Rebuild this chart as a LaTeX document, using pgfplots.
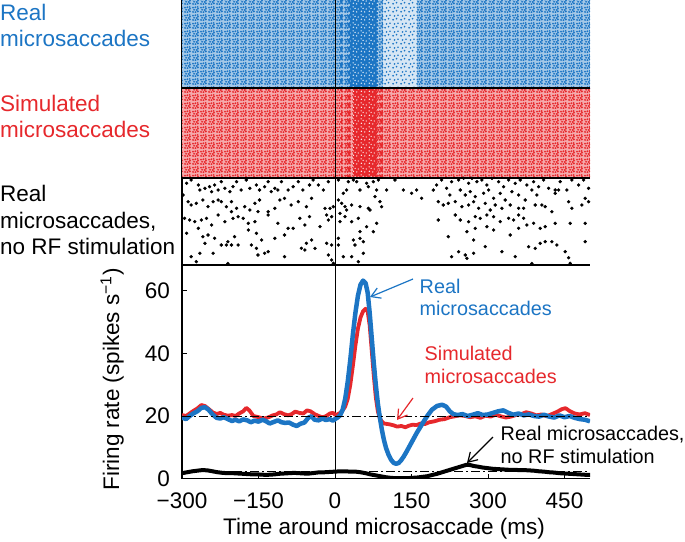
\documentclass[border=0pt]{standalone}
\usepackage{pgfplots}
\pgfplotsset{compat=1.18}
\usepackage{fontspec}
\setmainfont{Liberation Sans}
\usetikzlibrary{patterns,arrows.meta}
\definecolor{cblue}{RGB}{28,117,196}
\definecolor{cred}{RGB}{230,40,44}
\newcommand\bigf{\fontsize{22.5}{27}\selectfont}
\newcommand\annf{\fontsize{19.8}{24}\selectfont}
\pgfdeclarepatternformonly{basedots}{\pgfpointorigin}{\pgfqpoint{8pt}{8pt}}{\pgfqpoint{8pt}{8pt}}{%
 \pgfpathcircle{\pgfqpoint{1.2pt}{1.2pt}}{1.15pt}
 \pgfpathcircle{\pgfqpoint{3.9pt}{1.0pt}}{1.15pt}
 \pgfpathcircle{\pgfqpoint{6.7pt}{1.7pt}}{1.15pt}
 \pgfpathcircle{\pgfqpoint{2.4pt}{3.6pt}}{1.15pt}
 \pgfpathcircle{\pgfqpoint{5.2pt}{3.3pt}}{1.15pt}
 \pgfpathcircle{\pgfqpoint{6.8pt}{4.9pt}}{1.1pt}
 \pgfpathcircle{\pgfqpoint{1.2pt}{6.0pt}}{1.15pt}
 \pgfpathcircle{\pgfqpoint{3.7pt}{6.4pt}}{1.15pt}
 \pgfpathcircle{\pgfqpoint{6.3pt}{6.8pt}}{1.1pt}
 \pgfusepath{fill}}
\pgfdeclarepatternformonly{meddots}{\pgfpointorigin}{\pgfqpoint{8pt}{8pt}}{\pgfqpoint{8pt}{8pt}}{%
 \pgfpathcircle{\pgfqpoint{1.3pt}{1.3pt}}{1.3pt}
 \pgfpathcircle{\pgfqpoint{3.9pt}{1.3pt}}{1.3pt}
 \pgfpathcircle{\pgfqpoint{6.6pt}{1.7pt}}{1.3pt}
 \pgfpathcircle{\pgfqpoint{2.4pt}{3.6pt}}{1.3pt}
 \pgfpathcircle{\pgfqpoint{5.2pt}{3.4pt}}{1.3pt}
 \pgfpathcircle{\pgfqpoint{6.7pt}{4.9pt}}{1.25pt}
 \pgfpathcircle{\pgfqpoint{1.3pt}{5.9pt}}{1.3pt}
 \pgfpathcircle{\pgfqpoint{3.7pt}{6.3pt}}{1.3pt}
 \pgfpathcircle{\pgfqpoint{6.2pt}{6.7pt}}{1.25pt}
 \pgfpathcircle{\pgfqpoint{4.7pt}{5.0pt}}{1.2pt}
 \pgfusepath{fill}}
\pgfdeclarepatternformonly{sparsedots}{\pgfpointorigin}{\pgfqpoint{8pt}{8pt}}{\pgfqpoint{8pt}{8pt}}{%
 \pgfpathcircle{\pgfqpoint{1.2pt}{1.4pt}}{1.05pt}
 \pgfpathcircle{\pgfqpoint{5.0pt}{2.6pt}}{1.05pt}
 \pgfpathcircle{\pgfqpoint{2.8pt}{5.6pt}}{1.05pt}
 \pgfpathcircle{\pgfqpoint{6.6pt}{6.4pt}}{1.05pt}
 \pgfusepath{fill}}
\pgfdeclarepatternformonly{speckle}{\pgfpointorigin}{\pgfqpoint{8pt}{8pt}}{\pgfqpoint{8pt}{8pt}}{%
 \pgfpathcircle{\pgfqpoint{1.5pt}{2.0pt}}{0.75pt}
 \pgfpathcircle{\pgfqpoint{5.2pt}{1.2pt}}{0.75pt}
 \pgfpathcircle{\pgfqpoint{3.4pt}{5.1pt}}{0.75pt}
 \pgfpathcircle{\pgfqpoint{6.8pt}{4.4pt}}{0.75pt}
 \pgfpathcircle{\pgfqpoint{1.2pt}{6.8pt}}{0.75pt}
 \pgfusepath{fill}}
\begin{document}
\begin{tikzpicture}
\path[use as bounding box] (0,0) rectangle (685pt,-541pt);
% ---------------- raster panels ----------------
\begin{axis}[at={(182pt,0pt)}, anchor=north west, scale only axis,
 width=408pt, height=265pt, xmin=-300, xmax=500, ymin=0, ymax=265,
 axis x line*=bottom, axis y line*=left, xtick=\empty, ytick=\empty,
 axis line style={line width=1.2pt, black}]
% blue (real microsaccades): tint + dot texture
\addplot[draw=none, fill=cblue!40] coordinates {(-300,177) (95,177) (95,265) (-300,265)} -- cycle;
\addplot[draw=none, fill=cblue!18] coordinates {(95,177) (160,177) (160,265) (95,265)} -- cycle;
\addplot[draw=none, fill=cblue!40] coordinates {(160,177) (500,177) (500,265) (160,265)} -- cycle;
\addplot[draw=none, pattern=basedots, pattern color=cblue] coordinates {(-300,177) (10,177) (10,265) (-300,265)} -- cycle;
\addplot[draw=none, pattern=meddots, pattern color=cblue] coordinates {(10,177) (30,177) (30,265) (10,265)} -- cycle;
\addplot[draw=none, fill=cblue] coordinates {(30,177) (85,177) (85,265) (30,265)} -- cycle;
\addplot[draw=none, pattern=speckle, pattern color=white] coordinates {(30,177) (85,177) (85,265) (30,265)} -- cycle;
\addplot[draw=none, pattern=basedots, pattern color=cblue] coordinates {(85,177) (95,177) (95,265) (85,265)} -- cycle;
\addplot[draw=none, pattern=sparsedots, pattern color=cblue] coordinates {(95,177) (160,177) (160,265) (95,265)} -- cycle;
\addplot[draw=none, pattern=basedots, pattern color=cblue] coordinates {(160,177) (500,177) (500,265) (160,265)} -- cycle;
% red (simulated microsaccades)
\addplot[draw=none, fill=cred!40] coordinates {(-300,87) (500,87) (500,177) (-300,177)} -- cycle;
\addplot[draw=none, pattern=basedots, pattern color=cred] coordinates {(-300,87) (12,87) (12,177) (-300,177)} -- cycle;
\addplot[draw=none, pattern=meddots, pattern color=cred] coordinates {(12,87) (35,87) (35,177) (12,177)} -- cycle;
\addplot[draw=none, fill=cred] coordinates {(35,87) (82,87) (82,177) (35,177)} -- cycle;
\addplot[draw=none, pattern=speckle, pattern color=white] coordinates {(35,87) (82,87) (82,177) (35,177)} -- cycle;
\addplot[draw=none, pattern=meddots, pattern color=cred] coordinates {(82,87) (95,87) (95,177) (82,177)} -- cycle;
\addplot[draw=none, pattern=basedots, pattern color=cred] coordinates {(95,87) (500,87) (500,177) (95,177)} -- cycle;
% black (real microsaccades, no RF stimulation)
\addplot[only marks, mark=*, mark size=1.5pt, black] coordinates {
(-291,81.7)(-282,85)(-268,80)(-265,75)(-255,76.7)(-246,78.3)(-242,73.3)(-236,80)(-229,75)(-223,83.3)(-216,76.7)(-206,73.3)(-200,78.3)(-193,83.3)(-184,75)(-174,85)(-167,76.7)(-154,80)(-148,75)(-138,78.3)(-131,83.3)(-125,73.3)(-118,76.7)(-112,75)(-105,83.3)(-92,75)(-82,78.3)(-72,83.3)(-63,75)(-50,80)(-43,85)
(-298,70)(-288,63.3)(-282,60)(-272,61.7)(-259,65)(-249,58.3)(-239,63.3)(-229,65)(-223,63.3)(-213,58.3)(-203,63.3)(-193,56.7)(-177,58.3)(-167,55)(-157,61.7)(-148,65)(-131,53.3)(-118,56.7)(-108,65)(-99,66.7)(-86,60)(-72,63.3)(-56,58.3)(-46,66.7)
(-295,46.7)(-285,45)(-275,43.3)(-262,45)(-252,46.7)(-242,40)(-229,50)(-216,43.3)(-203,53.3)(-200,46.7)(-190,48.3)(-180,46.7)(-170,41.7)(-157,43.3)(-151,53.3)(-131,50)(-112,41.7)(-92,36.7)(-69,46.7)(-59,40)(-50,48.3)
(-291,31.7)(-268,36.7)(-259,28.3)(-249,30)(-236,26.7)(-210,23.3)(-197,28.3)(-170,35)(-154,31.7)(-144,25)(-118,26.7)(-99,30)(-82,36.7)(-56,21.7)(-46,25)
(-282,8.3)(-265,11.7)(-255,21.7)(-239,11.7)(-223,20)(-213,20)(-203,20)(-190,20)(-164,20)(-154,16.7)(-151,10)(-138,11.7)(-131,13.3)(-99,8.3)(-66,16.7)(-59,15)(-272,3.3)(-210,1.5)
(-32.7,80)(-22.9,75)(-13.1,83.3)(6.5,85)(16.3,71.7)(22.9,75)(26.1,83.3)(35.9,85)(42.5,83.3)(49,75)(62,81.7)(65.3,78.3)(75.1,83.3)(84.9,85)(81.7,75)(101.3,75)(117.6,85)(133.9,75)(150.3,71.7)(160,75)(169.9,66.7)(192.7,75)(199.3,80)(209,85)(218.9,76.7)(228.7,83.3)
(-19.6,56.7)(-9.8,56.7)(-3.3,58.3)(6.5,65)(13.1,61.7)(19.6,58.3)(22.9,55)(32.7,60)(49,58.3)(65.3,56.7)(68.6,55)(78.4,68.3)(88.2,63.3)(91.5,58.3)(202.5,63.3)(212.3,60)(222.1,61.7)(225.4,70)
(-16.3,50)(-13.1,45)(-6.5,48.3)(9.8,51.7)(19.6,48.3)(32.7,43.3)(45.7,46.7)(62,38.3)(81.7,41.7)(202.5,45)
(-29.4,38.3)(9.8,43.3)(49,33.3)(75.1,33.3)
(-39.2,16.7)(-16.3,21.7)(-6.5,20)(6.5,26.7)(6.5,20)(35.9,25)(39.2,20)(49,26.7)(55.5,23.3)(222.1,28.3)
(-13.1,10)(-6.5,5)(16.3,8.3)(32.7,8.3)(45.7,3.3)(55.5,11.7)(-3.3,1.7)(228.7,8.3)
(242.4,85)(252.2,86.7)(262,81.7)(268.5,86.7)(278.3,83.3)(288.1,85)(297.9,80)(307.7,86.7)(320.8,83.3)(330.6,78.3)(340.4,85)(353.4,81.7)(363.2,85)(376.3,80)(389.4,83.3)(399.2,78.3)(409,85)(418.8,76.7)(431.8,75)(441.6,83.3)(454.7,75)(464.5,85)(477.6,80)(487.4,85)(497.2,76.7)
(245.6,75)(255.4,70)(265.2,73.3)(275,68.3)(291.4,71.7)(301.2,75)(311,66.7)(324,71.7)(333.8,65)(346.9,73.3)(360,70)(373,65)(386.1,75)(395.9,70)(405.7,60)(431.8,71.7)(438.4,75)(458,63.3)(464.5,56.7)(490.6,66.7)(497.2,63.3)
(235.8,63.3)(248.9,58.3)(262,60)(271.8,63.3)(281.6,56.7)(294.6,61.7)(304.4,55)(314.2,60)(327.3,56.7)(343.6,60)(360,56.7)(369.8,56.7)(392.6,60)(412.2,58.3)(425.3,53.3)(484.1,60)
(235.8,50)(245.6,45)(262,43.3)(275,48.3)(284.8,46.7)(297.9,50)(311,48.3)(324,43.3)(340.4,46.7)(350.2,45)(360,50)(369.8,46.7)(389.4,41.7)(412.2,38.3)(431.8,41.7)(461.2,41.7)(490.6,41.7)
(258.7,33.3)(275,36.7)(297.9,38.3)(311,35)(343.6,30)(360,36.7)(376.3,40)(402.4,36.7)(425.3,23.3)
(271.8,25)(294.6,18.3)(379.6,18.3)(392.6,16.7)(402.4,21.7)(412.2,23.3)(435.1,20)(451.4,13.3)(490.6,23.3)
(242.4,13.3)(255.4,10)(258.7,6.7)(271.8,11.7)(327.3,13.3)(353.4,8.3)(458,7.3)(461.2,1.7)(386.1,1.5)
};
% separators and time-zero line
\addplot[black, line width=1.2pt] coordinates {(-300,177) (500,177)};
\addplot[black, line width=1.2pt] coordinates {(-300,87) (500,87)};
\addplot[black, line width=1pt] coordinates {(0,0) (0,265)};
\end{axis}
% ---------------- firing rate ----------------
\begin{axis}[at={(182pt,-265pt)}, anchor=north west, scale only axis,
 width=408pt, height=213.5pt, xmin=-300, xmax=500, ymin=0, ymax=68.3,
 axis x line*=bottom, axis y line*=left,
 xtick={-300,-150,0,150,300,450}, xticklabels={−300,−150,0,150,300,450},
 ytick={0,20,40,60},
 tick align=inside, major tick length=5pt,
 tick style={black, line width=1pt},
 axis line style={line width=1.2pt, black},
 /pgf/number format/assume math mode=true,
 ticklabel style={font=\bigf, inner sep=0pt},
 xticklabel style={yshift=-14pt},
 yticklabel style={xshift=-12pt}]
\addplot[black, line width=1pt] coordinates {(0,0) (0,68.3)};
\addplot[cred, line width=3.8pt, line join=round] coordinates {
(-300,20.3)(-292,20.0)(-285,20.8)(-278,21.6)(-270,22.4)(-262,23.5)(-255,23.2)(-248,22.3)(-240,21.2)(-232,20.6)(-225,21.0)(-218,20.4)(-210,20.1)(-202,20.3)(-195,20.0)(-188,20.8)(-180,21.5)(-174,22.6)(-168,21.8)(-160,20.0)(-152,19.7)(-145,19.4)(-138,19.2)(-130,19.6)(-122,20.2)(-115,20.5)(-108,21.2)(-100,20.6)(-92,20.2)(-85,20.6)(-78,21.4)(-70,21.0)(-62,20.8)(-55,21.8)(-48,21.5)(-40,20.6)(-32,20.0)(-25,19.6)(-18,19.9)(-10,20.8)(-4,21.0)(0,20.4)(5,20.5)(10,21.0)(15,21.8)(20,23.0)(25,25.5)(30,30)(35,36)(40,42.5)(45,48)(50,51.5)(55,53.5)(60,54.3)(64,53.5)(68,49)(72,41)(76,33)(80,26)(84,21.5)(88,19.2)(92,18.2)(96,17.6)(100,17.5)(108,17.3)(115,17.0)(122,16.6)(130,16.8)(138,16.4)(145,16.9)(152,17.2)(160,17.1)(168,17.6)(176,17.4)(185,18.0)(195,18.3)(205,18.8)(215,19.0)(225,19.6)(235,19.9)(245,20.2)(255,20.0)(265,19.6)(275,19.9)(285,19.4)(295,20.1)(305,19.8)(315,20.4)(325,19.9)(335,19.5)(345,19.8)(355,20.3)(365,20.6)(375,21.2)(385,20.8)(395,20.2)(405,20.5)(415,19.9)(425,20.6)(435,21.3)(445,22.2)(452,22.5)(460,21.6)(470,20.8)(480,20.5)(490,20.9)(500,20.3)};
\addplot[cblue, line width=4.5pt, line join=round] coordinates {
(-300,19.5)(-292,19.0)(-285,20.0)(-278,20.8)(-270,21.5)(-262,22.6)(-255,22.8)(-248,22.0)(-240,20.5)(-232,19.4)(-225,19.2)(-218,19.6)(-210,19.0)(-202,18.4)(-195,18.8)(-188,18.3)(-180,18.9)(-172,18.6)(-165,18.0)(-158,18.5)(-150,18.2)(-142,18.8)(-135,18.3)(-128,17.6)(-120,18.1)(-112,18.6)(-105,18.0)(-98,17.8)(-90,17.9)(-82,17.2)(-75,16.8)(-68,17.5)(-60,17.9)(-52,19.5)(-46,19.9)(-40,18.8)(-32,18.6)(-25,19.2)(-18,18.7)(-10,19.0)(-4,18.5)(0,19.0)(5,19.5)(10,20.2)(15,22.0)(20,25.5)(25,31)(30,38)(35,46)(40,53)(45,58.5)(50,62)(55,63.3)(60,62.5)(64,59.5)(68,53)(72,45)(76,37)(80,30)(84,24)(88,19.5)(92,15.5)(96,12.3)(100,9.8)(105,7.6)(110,6.0)(115,5.0)(120,4.7)(125,5.0)(130,5.9)(135,7.1)(140,8.5)(145,10.0)(150,11.5)(160,14.5)(170,17.2)(180,19.8)(190,22.0)(200,23.2)(210,23.6)(218,23.0)(225,21.5)(232,20.6)(240,20.3)(250,20.6)(260,20.0)(270,20.4)(280,20.9)(290,20.3)(300,20.5)(310,21.0)(320,21.5)(330,21.8)(340,21.0)(350,20.4)(360,20.8)(370,20.2)(380,20.5)(390,20.0)(400,19.8)(410,20.4)(420,19.8)(430,19.5)(440,20.2)(450,19.6)(460,20.0)(470,19.4)(480,19.0)(490,18.8)(500,18.3)};
\addplot[black, line width=4pt, line join=round] coordinates {
(-300,1.7)(-290,2.0)(-280,2.3)(-270,2.5)(-260,2.7)(-250,2.6)(-240,2.3)(-230,2.0)(-220,1.8)(-210,1.7)(-200,1.7)(-190,1.6)(-180,1.5)(-170,1.4)(-160,1.3)(-150,1.3)(-140,1.2)(-130,1.2)(-120,1.3)(-110,1.5)(-100,1.6)(-90,1.7)(-80,1.8)(-70,1.7)(-60,1.6)(-50,1.6)(-40,1.8)(-30,2.0)(-20,2.0)(-10,2.1)(0,2.2)(10,2.3)(20,2.3)(30,2.2)(40,2.2)(50,2.0)(60,1.7)(70,1.3)(80,1.0)(90,0.7)(100,0.4)(110,0.2)(120,0.1)(130,0.1)(140,0.1)(150,0.2)(160,0.3)(170,0.5)(180,0.7)(190,1.1)(200,1.5)(210,2.0)(220,2.5)(230,3.0)(240,3.5)(250,4.0)(258,4.4)(265,4.3)(272,4.0)(280,3.8)(290,3.5)(300,3.3)(310,3.1)(320,3.0)(330,2.9)(340,2.8)(350,2.8)(360,2.7)(370,2.7)(380,2.6)(390,2.5)(400,2.3)(410,2.2)(420,2.0)(430,1.9)(440,1.7)(450,1.6)(460,1.5)(470,1.4)(480,1.3)(490,1.2)(500,1.2)};
\addplot[black, line width=0.9pt, dash pattern=on 9pt off 3pt on 2pt off 3pt] coordinates {(-300,20) (500,20)};
\addplot[black, line width=0.9pt, dash pattern=on 9pt off 3pt on 2pt off 3pt] coordinates {(-300,2.2) (500,2.2)};
\end{axis}
% ---------------- labels ----------------
\node[anchor=base west, inner sep=0, text=cblue, font=\bigf] at (0pt,-20pt) {Real};
\node[anchor=base west, inner sep=0, text=cblue, font=\bigf] at (0pt,-46.5pt) {microsaccades};
\node[anchor=base west, inner sep=0, text=cred, font=\bigf] at (0pt,-111pt) {Simulated};
\node[anchor=base west, inner sep=0, text=cred, font=\bigf] at (0pt,-137.3pt) {microsaccades};
\node[anchor=base west, inner sep=0, font=\bigf] at (0pt,-201.7pt) {Real};
\node[anchor=base west, inner sep=0, font=\bigf] at (0pt,-228.3pt) {microsaccades,};
\node[anchor=base west, inner sep=0, font=\bigf] at (0pt,-254.5pt) {no RF stimulation};
\node[anchor=base, inner sep=0, font=\bigf] at (384pt,-534pt) {Time around microsaccade (ms)};
\node[rotate=90, anchor=base, inner sep=0, font=\bigf] at (119pt,-379.5pt) {Firing rate (spikes s\textsuperscript{−1})};
% annotations
\node[anchor=base west, inner sep=0, text=cblue, font=\annf] at (419.5pt,-293.3pt) {Real};
\node[anchor=base west, inner sep=0, text=cblue, font=\annf] at (419.5pt,-315.7pt) {microsaccades};
\node[anchor=base west, inner sep=0, text=cred, font=\annf] at (424.5pt,-360pt) {Simulated};
\node[anchor=base west, inner sep=0, text=cred, font=\annf] at (424.5pt,-383.3pt) {microsaccades};
\node[anchor=base west, inner sep=0, font=\annf] at (500.5pt,-440pt) {Real microsaccades,};
\node[anchor=base west, inner sep=0, font=\annf] at (500.5pt,-463.3pt) {no RF stimulation};
\draw[cblue, line width=1.2pt, -{Straight Barb[length=9pt, width=11pt]}] (413pt,-279pt) -- (370pt,-297pt);
\draw[cred, line width=1.2pt, -{Straight Barb[length=9pt, width=11pt]}] (413pt,-398pt) -- (397pt,-420pt);
\draw[black, line width=1.2pt, -{Straight Barb[length=9pt, width=11pt]}] (493pt,-437pt) -- (467pt,-463pt);
\end{tikzpicture}
\end{document}
